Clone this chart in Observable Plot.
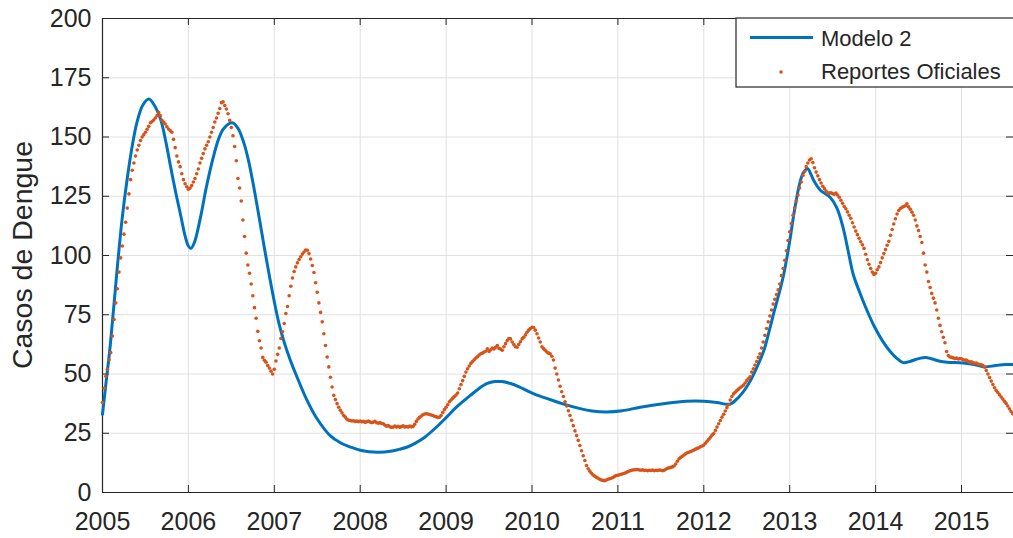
<!DOCTYPE html>
<html>
<head>
<meta charset="utf-8">
<script src="https://cdn.jsdelivr.net/npm/d3@7"></script>
<script src="https://cdn.jsdelivr.net/npm/@observablehq/plot@0.6"></script>
<style>
  html, body { margin: 0; padding: 0; background: #ffffff; }
  #chart svg { display: block; }
</style>
</head>
<body>
<div id="chart"></div>
<script>
// ---------- tick labels ----------
const yearTicks = [2005, 2006, 2007, 2008, 2009, 2010, 2011, 2012, 2013, 2014, 2015];
const valueTicks = [0, 25, 50, 75, 100, 125, 150, 175, 200];
const seriesNames = ["Modelo 2", "Reportes Oficiales"];
const yLabel = "Casos de Dengue";

// ---------- Modelo 2 (time, value) ----------
const modelT = [2005.00,2005.04,2005.09,2005.17,2005.23,2005.29,2005.35,2005.40,2005.47,2005.54,
  2005.61,2005.68,2005.74,2005.79,2005.85,2005.91,2005.96,2006.00,2006.03,2006.07,
  2006.14,2006.21,2006.29,2006.35,2006.41,2006.51,2006.58,2006.65,2006.70,2006.75,
  2006.80,2006.85,2006.90,2006.95,2007.00,2007.05,2007.11,2007.19,2007.25,2007.38,
  2007.50,2007.65,2007.77,2007.90,2008.00,2008.10,2008.22,2008.35,2008.45,2008.55,
  2008.65,2008.74,2008.87,2009.00,2009.12,2009.25,2009.37,2009.48,2009.57,2009.65,
  2009.75,2009.85,2009.94,2010.05,2010.18,2010.35,2010.56,2010.70,2010.87,2011.05,
  2011.26,2011.57,2011.80,2012.00,2012.15,2012.27,2012.32,2012.40,2012.47,2012.54,
  2012.62,2012.70,2012.76,2012.82,2012.88,2012.93,2013.00,2013.06,2013.12,2013.16,
  2013.21,2013.25,2013.28,2013.36,2013.47,2013.55,2013.62,2013.68,2013.74,2013.82,
  2013.90,2013.99,2014.08,2014.17,2014.25,2014.32,2014.40,2014.50,2014.58,2014.66,
  2014.75,2014.83,2015.02,2015.15,2015.27,2015.40,2015.52,2015.605];
const modelV = [33,46,62,94,116,133,147,156,163.5,166,
  163,157,147.5,138,127,117,108.5,104,103,105.5,
  116,129,141.5,149,153.5,156,153.5,147,140,131,
  121,110.5,100,90,80.5,72,64,55.5,50,39,
  31,24,21,19,17.8,17.2,17,17.4,18.2,19.2,
  21,23,27,31.6,36,40,43.5,46,46.8,46.8,
  46,44.6,43,41.2,39.6,37.5,35.4,34.4,34,34.5,
  36,37.7,38.5,38.5,38,37.2,37.5,40,43,47,
  53,60,68,76.5,84.5,92,106,120,131,135,
  136.6,134,131.6,127.4,124.6,120,112,102,92,84,
  76.8,69.7,64,59.5,56.5,54.8,55.3,56.5,57,56.3,
  55.4,55,54.6,54,53,53.6,54,54];

// ---------- Reportes Oficiales, weekly values per year ----------
const obs2005 = [38,44,49,52,56,59,66,73,80,86, 93,99,104,109,114,120,126,132,136,139,
  142,144.5,146.5,148.5,150,151,152,153.3,154.5,156, 156.5,157.2,158,159,160.4,159,157,156.3,155.5,154.3,
  153.4,152.7,152,149,145.5,142,139.5,137.5,134.5,132, 130.3,129];
const obs2006 = [128,128.5,129.5,131,132.5,134.5,136.5,139,141,143, 145,146.5,148,150,152,154,156.3,158,160,162,
  164.5,164.8,163.3,161.8,159.8,157,154,150.5,146,140, 132.5,128.5,123,115,108,101,96,92.5,88,83,
  78,73.5,68,64,61,57,55.8,55,53.6,52.5, 51.2,50];
const obs2007 = [52,55.5,58.3,61,65,67.8,71.3,75.5,78.5,83, 87,90.5,93.2,95.2,96.9,98.3,99.5,100.6,101.5,102.3,
  102.2,100.8,98.5,95.8,92.8,88.5,84.5,80,76,72, 67,62,57.2,53,48.6,44.5,41,39.2,37.5,36,
  34.7,33.6,32.5,31.8,30.9,30.5,30.4,30.2,30.3,30, 30.1,29.9];
const obs2008 = [30.2,29.8,30,29.6,29.9,30.1,29.7,29.5,29.7,30, 29.4,29.2,29.5,29.1,29,28.4,28,28.3,27.7,27.5,
  27.6,28,27.6,27.9,27.5,27.8,28.1,27.6,27.8,27.6, 28,27.7,27.8,28.8,30,31,31.7,32.3,32.8,33.1,
  33.2,33.1,32.9,32.7,32.5,32.2,31.9,31.7,31.8,32.5, 33.8,35];
const obs2009 = [36,37,38.3,39,39.8,40.5,41.1,42,43.8,45.5, 47.2,49,50.8,52.2,53.4,54.5,55.3,56,56.7,57.3,
  58,58.5,58.8,59.3,59.6,60.6,59.5,60.2,61,60.6, 61.3,62,60.8,60.5,60,61.5,62.8,64.1,65,64.8,
  63.5,62.4,61.5,61.3,62.5,63.6,64.8,65.5,66.5,67.6, 68.5,69.2];
const obs2010 = [69.7,69.6,68.5,67,65.2,63.5,61.5,60.7,60,59.3, 58.8,58.5,57.5,55.9,52.5,50,47.5,44.8,42.5,40.5,
  38.3,36.5,34.5,32.5,30.5,28.2,26,24,22,19.8, 17.6,15.5,13.5,11.4,10,9,8.1,7.4,6.9,6.4,
  6,5.6,5.3,5.1,5,5.3,5.6,5.8,6,6.3, 6.8,7.2];
const obs2011 = [7.3,7.5,7.7,7.9,8.1,8.4,8.8,9.1,9.3,9.5, 9.6,9.6,9.7,9.5,9.4,9.6,9.3,9.4,9.2,9.4,
  9.3,9.5,9.2,9.4,9.3,9.5,9.4,9.2,9.4,9.8, 10.2,10.4,10.6,10.8,11.2,12,13.2,14.2,14.8,15.3,
  15.8,16.3,16.8,17,17.3,17.6,17.9,18.3,18.6,18.9, 19.3,19.6];
const obs2012 = [20,20.8,21.6,22.5,23.3,24.2,24.9,26.2,27.6,29, 30.4,31.8,33,34.4,35.8,37,39,40.5,41.6,42.3,
  43,43.6,44.2,44.7,45.3,46.2,47.2,48,48.8,50.8, 52.2,53.8,55.3,57,58.5,61,63.5,66.3,69.2,72,
  74.5,77,79.5,81.5,83.5,85.5,88,91.5,94.5,98, 102,106.3];
const obs2013 = [110,113.5,117,120,123,125.5,128.5,131,133.8,135.5, 137.5,139,140.3,140.8,139.2,137,135.2,133.6,132,130.6,
  129.2,128.2,127.2,126.5,126.3,126.5,126.1,125.8,126.3,125.5, 124.6,123.3,122,120.7,119.7,118.4,117,115.7,113.8,112,
  110.3,108.8,107.3,105.8,104.5,103,100.5,98.2,96.3,94.5, 93,92];
const obs2014 = [92.5,94,95.2,97,99,100.8,102.5,104.3,106,108.5, 111,113.3,115.5,117.5,119,119.8,120.3,120.7,121,121.8,
  120.5,119.5,118.3,117,115,112.5,110.5,108,105.5,101, 96,93,89,86.5,84,82,80,77,73.5,70.5,
  67.8,65.5,63.2,59.5,57.8,57.2,57,56.8,56.5,56.7, 56.3,56.5];
const obs2015 = [56.4,56,55.8,55.9,55.4,55,55.2,54.7,54.5,54.6, 54.2,54,53.9,53.6,53,51.5,50,48.5,47,45.6,
  44.2,43,42.2,41.2,40.3,39.4,38.5,37.6,36.5,35.3, 34.2,33.2];

// ---------- build tables ----------
const obsByYear = [[2005,obs2005],[2006,obs2006],[2007,obs2007],[2008,obs2008],[2009,obs2009],
  [2010,obs2010],[2011,obs2011],[2012,obs2012],[2013,obs2013],[2014,obs2014],[2015,obs2015]];
const obs = obsByYear.flatMap(([yr, vals]) => vals.map((v, k) => ({t: yr + k / 52, v})));
const model = modelT.map((t, i) => ({t, v: modelV[i]}));

// ---------- layout & style ----------
const W = 1013, H = 538;
const mL = 102, mT = 18, mB = 46, mR = 0;
const plotW = W - mL - mR, plotH = H - mT - mB;
const xMax = 2005 + plotW / 85.9;
const FONT = "'Liberation Sans', Arial, Helvetica, sans-serif";
const axisColor = "#262626";
const gridColor = "#e0e0e0";
const blue = "#0072BD", orange = "#D95319";
const tickLen = 7;

const chart = Plot.plot({
  width: W, height: H,
  marginLeft: mL, marginTop: mT, marginBottom: mB, marginRight: mR,
  x: {domain: [2005, xMax]},
  y: {domain: [0, 200]},
  style: {fontFamily: FONT, color: axisColor, background: "#ffffff"},
  marks: [
    // grid
    Plot.ruleY(valueTicks, {y: d => d, stroke: gridColor, strokeWidth: 1}),
    Plot.ruleX(yearTicks, {x: d => d, stroke: gridColor, strokeWidth: 1}),
    // frame (top, bottom, left)
    Plot.ruleY([0, 200], {y: d => d, stroke: axisColor, strokeWidth: 1.2}),
    Plot.ruleX([2005], {x: d => d, stroke: axisColor, strokeWidth: 1.2}),
    // inward ticks
    Plot.ruleX(yearTicks, {x: d => d, stroke: axisColor, insetTop: plotH - tickLen}),
    Plot.ruleX(yearTicks, {x: d => d, stroke: axisColor, insetBottom: plotH - tickLen}),
    Plot.ruleY(valueTicks, {y: d => d, stroke: axisColor, insetRight: plotW - tickLen}),
    Plot.ruleY(valueTicks, {y: d => d, stroke: axisColor, insetLeft: plotW - tickLen}),
    // data
    Plot.line(model, {x: "t", y: "v", stroke: blue, strokeWidth: 3, curve: "catmull-rom"}),
    Plot.dot(obs, {x: "t", y: "v", r: 1.8, fill: orange, stroke: null}),
    // axes
    Plot.axisX({ticks: yearTicks, tickFormat: d => String(d), tickSize: 0, tickPadding: 20,
      fontSize: 25, label: null, fill: axisColor}),
    Plot.axisY({ticks: valueTicks, tickFormat: d => String(d), tickSize: 0, tickPadding: 11,
      fontSize: 25, label: null, fill: axisColor})
  ]
});

document.getElementById("chart").appendChild(chart);

// ---------- y label & legend ----------
const svg = d3.select(chart);
svg.append("text")
  .attr("transform", `translate(32,${mT + plotH / 2}) rotate(-90)`)
  .attr("text-anchor", "middle")
  .attr("font-family", FONT)
  .attr("font-size", 28.5)
  .attr("fill", axisColor)
  .text(yLabel);

const lg = svg.append("g").attr("text-anchor", "start");
lg.append("rect")
  .attr("x", 736).attr("y", mT).attr("width", 300).attr("height", 69)
  .attr("fill", "#ffffff").attr("stroke", axisColor).attr("stroke-width", 1.2);
lg.append("line")
  .attr("x1", 750).attr("x2", 813).attr("y1", 37.5).attr("y2", 37.5)
  .attr("stroke", blue).attr("stroke-width", 3);
lg.append("circle")
  .attr("cx", 781).attr("cy", 72).attr("r", 1.8).attr("fill", orange);
lg.append("text")
  .attr("x", 821).attr("y", 46).attr("text-anchor", "start")
  .attr("font-family", FONT).attr("font-size", 22)
  .attr("fill", axisColor).text(seriesNames[0]);
lg.append("text")
  .attr("x", 821).attr("y", 79).attr("text-anchor", "start")
  .attr("font-family", FONT).attr("font-size", 22)
  .attr("fill", axisColor).text(seriesNames[1]);
</script>
</body>
</html>
